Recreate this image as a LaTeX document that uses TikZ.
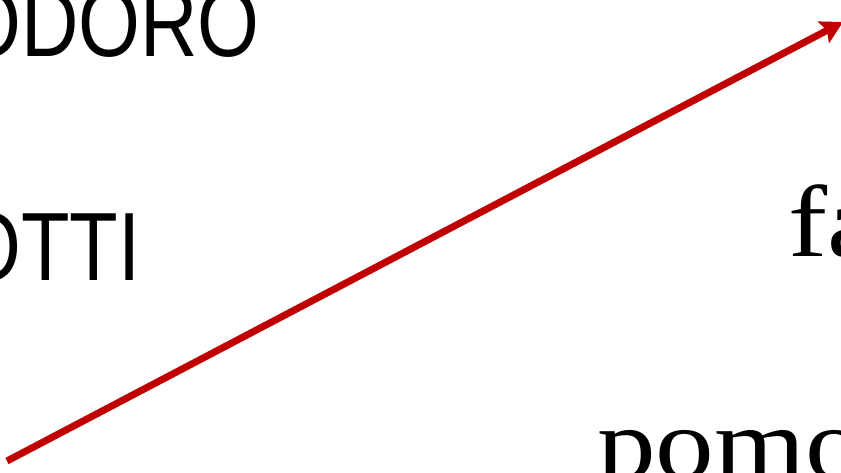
\documentclass[tikz,border=0pt]{standalone}
\usepackage{fontspec}
\usepackage{xcolor}
\usetikzlibrary{arrows.meta,positioning}
\newfontfamily\capsfont[FakeStretch=0.82]{Liberation Sans}
\newfontfamily\wordfont[FakeStretch=1.15]{Liberation Serif}
\definecolor{arrowred}{HTML}{C00000}

\begin{document}
\begin{tikzpicture}[
    x=1pt, y=-1pt,
    % Words
    capsword/.style={anchor=base west, inner sep=0pt, font=\capsfont\fontsize{97}{100}\selectfont},
    lowword/.style={anchor=base west, inner sep=0pt, font=\wordfont\fontsize{102}{110}\selectfont},
    % Connector
    link/.style={-{Stealth[length=22pt, width=24pt, inset=4pt]}, line width=7pt, arrowred}
]

% Frame
\useasboundingbox (0,0) rectangle (841,473);
\clip (0,0) rectangle (841,473);

% Left column
\node[capsword] (topword) at (-41, 57) {ODORO};
\node[capsword] (midword) at (-41, 280) {OTTI};

% Right column
\node[lowword] (faword) at (788, 257) {fa};
\node[lowword] (pomoword) at (597, 478) {pomo};

% Arrow
\coordinate (from) at (7, 461);
\coordinate (to) at (843, 22);
\draw[link] (from) -- (to);

\end{tikzpicture}
\end{document}
